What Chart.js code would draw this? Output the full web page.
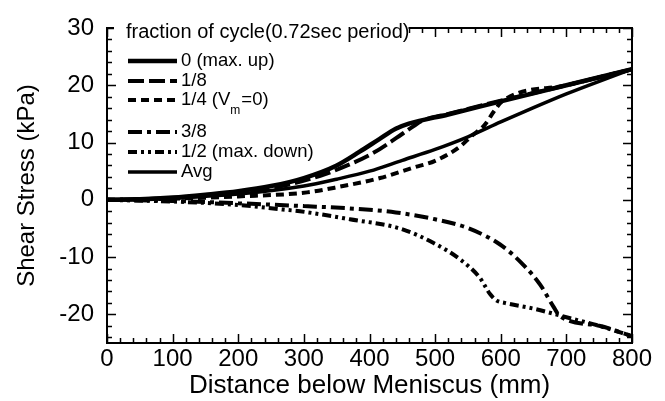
<!DOCTYPE html>
<html>
<head>
<meta charset="utf-8">
<script src="https://cdn.jsdelivr.net/npm/chart.js@4.4.1/dist/chart.umd.min.js"></script>
<style>
  html, body { margin: 0; padding: 0; background: #fff; }
  #wrap { width: 665px; height: 401px; }
</style>
</head>
<body>
<div id="wrap"><canvas id="stressChart" width="665" height="401"></canvas></div>
<script>
// Shear stress along the strand, one curve per fraction of the oscillation cycle
const seriesNames = ['0 (max. up)', '1/8', '1/4 (V_m=0)', '3/8', '1/2 (max. down)', 'Avg'];
const legendTitle = 'fraction of cycle(0.72sec period)';

const x0 = [0, 50, 100, 150, 200, 250, 300, 350, 385, 415, 440, 460, 520, 600, 700, 800];
const y0 = [0, 0.1, 0.4, 0.9, 1.5, 2.4, 3.8, 6.0, 8.4, 10.6, 12.4, 13.3, 14.9, 17.2, 20.0, 22.8];

const x18 = [0, 50, 100, 150, 200, 270, 325, 366, 406, 441, 465, 482, 520, 600, 700, 800];
const y18 = [0, 0.1, 0.3, 0.7, 1.2, 2.5, 4.2, 6.0, 8.2, 10.8, 12.7, 13.9, 15.0, 17.3, 20.0, 22.8];

const x14 = [0, 100, 200, 305, 355, 416, 466, 500, 538, 556, 575, 590, 603, 700, 800];
const y14 = [0, 0.2, 0.6, 1.3, 2.3, 3.8, 5.6, 6.8, 9.3, 11.2, 13.0, 15.5, 17.3, 20.0, 22.8];

const x38 = [0, 100, 200, 300, 370, 440, 500, 549, 599, 634, 660, 680, 690, 750, 800];
const y38 = [0, -0.2, -0.6, -1.1, -1.5, -2.2, -3.4, -4.9, -7.8, -11.3, -14.8, -18.6, -20.3, -22.0, -23.8];

const x12 = [0, 100, 200, 268, 294, 370, 446, 497, 538, 568, 584, 594, 606, 650, 700, 750, 800];
const y12 = [0, -0.3, -0.9, -1.7, -2.0, -3.4, -5.0, -7.5, -10.4, -13.6, -16.5, -17.6, -18.0, -19.0, -20.5, -22.0, -23.8];

const xAvg = [0, 100, 200, 300, 350, 400, 450, 500, 550, 600, 650, 700, 750, 800];
const yAvg = [0, 0.3, 1.0, 2.4, 3.6, 5.0, 6.9, 8.8, 11.0, 13.6, 16.1, 18.5, 20.7, 22.8];

const xTicks = [0, 100, 200, 300, 400, 500, 600, 700, 800];
const yTicks = [-20, -10, 0, 10, 20, 30];

const FONT = '"Liberation Sans", Arial, Helvetica, sans-serif';

function pts(xs, ys) {
    return xs.map((x, i) => ({ x: x, y: ys[i] }));
}

// inward tick marks and full frame, like the original plot
const framePlugin = {
    id: 'frame',
    beforeDatasetsDraw(chart) {
        const { ctx, chartArea: a, scales } = chart;
        ctx.save();
        ctx.strokeStyle = '#000';
        ctx.lineWidth = 1.5;
        ctx.beginPath();
        for (let v = 0; v <= 800; v += 20) {
            const px = Math.round(scales.x.getPixelForValue(v)) + 0.5;
            const len = v % 100 === 0 ? 9 : 5;
            ctx.moveTo(px, a.bottom); ctx.lineTo(px, a.bottom - len);
            ctx.moveTo(px, a.top); ctx.lineTo(px, a.top + len);
        }
        for (let v = -24; v <= 30; v += 2) {
            const py = Math.round(scales.y.getPixelForValue(v)) + 0.5;
            const len = v % 10 === 0 ? 9 : 5;
            ctx.moveTo(a.left, py); ctx.lineTo(a.left + len, py);
            ctx.moveTo(a.right, py); ctx.lineTo(a.right - len, py);
        }
        ctx.stroke();
        ctx.lineWidth = 2;
        ctx.strokeRect(a.left, a.top, a.right - a.left, a.bottom - a.top);
        ctx.restore();
    },
    afterDatasetsDraw(chart) {
        const { ctx, chartArea: a } = chart;
        ctx.save();
        // title sits on the top border
        ctx.font = '20px ' + FONT;
        const tw = ctx.measureText(legendTitle).width;
        ctx.fillStyle = '#fff';
        ctx.fillRect(a.left + 7, a.top - 12, tw + 11, 24);
        ctx.fillStyle = '#000';
        ctx.textBaseline = 'middle';
        ctx.fillText(legendTitle, a.left + 19, a.top + 4);

        const rows = [61, 81, 100, 132, 152, 172];
        chart.data.datasets.forEach((ds, i) => {
            const y = rows[i];
            ctx.strokeStyle = '#000';
            ctx.lineWidth = ds.borderWidth;
            ctx.setLineDash(ds.borderDash || []);
            ctx.beginPath();
            ctx.moveTo(128, y);
            ctx.lineTo(177, y);
            ctx.stroke();
            ctx.setLineDash([]);

            const name = ds.label;
            ctx.font = '18.5px ' + FONT;
            const k = name.indexOf('_');
            if (k < 0) {
                ctx.fillText(name, 181, y);
            } else {
                const pre = name.slice(0, k), sub = name.charAt(k + 1), post = name.slice(k + 2);
                ctx.fillText(pre, 181, y);
                let xp = 181 + ctx.measureText(pre).width;
                ctx.font = '12px ' + FONT;
                ctx.fillText(sub, xp, y + 11);
                xp += ctx.measureText(sub).width + 1;
                ctx.font = '18.5px ' + FONT;
                ctx.fillText(post, xp, y);
            }
        });
        ctx.restore();
    }
};

const styles = [
    { w: 4.5, dash: [] },
    { w: 4, dash: [16, 5] },
    { w: 4, dash: [8, 5] },
    { w: 4, dash: [14, 5, 4, 5] },
    { w: 4, dash: [9, 4, 3, 4, 3, 4] },
    { w: 3.5, dash: [] }
];
const seriesData = [pts(x0, y0), pts(x18, y18), pts(x14, y14), pts(x38, y38), pts(x12, y12), pts(xAvg, yAvg)];

const ctx = document.getElementById('stressChart');
new Chart(ctx, {
    type: 'line',
    data: {
        datasets: seriesData.map((d, i) => ({
            label: seriesNames[i],
            data: d,
            borderColor: '#000',
            borderWidth: styles[i].w,
            borderDash: styles[i].dash,
            pointRadius: 0,
            fill: false,
            cubicInterpolationMode: 'monotone'
        }))
    },
    options: {
        responsive: false,
        animation: false,
        devicePixelRatio: 1,
        layout: { padding: { top: 28, right: 33, left: 0, bottom: 0 } },
        plugins: { legend: { display: false }, tooltip: { enabled: false } },
        scales: {
            x: {
                type: 'linear',
                min: 0,
                max: 800,
                afterBuildTicks: s => { s.ticks = xTicks.map(v => ({ value: v })); },
                afterFit: s => { s.height = 58; },
                grid: { display: false, drawTicks: false },
                border: { display: false },
                ticks: { color: '#000', font: { family: FONT, size: 24 }, padding: 2, maxRotation: 0, autoSkip: false },
                title: {
                    display: true,
                    text: 'Distance below Meniscus (mm)',
                    color: '#000',
                    font: { family: FONT, size: 26 },
                    padding: { top: 0, bottom: 0 }
                }
            },
            y: {
                min: -25,
                max: 30,
                afterBuildTicks: s => { s.ticks = yTicks.map(v => ({ value: v })); },
                afterFit: s => { s.width = 107; },
                grid: { display: false, drawTicks: false },
                border: { display: false },
                ticks: { color: '#000', font: { family: FONT, size: 24 }, padding: 13 },
                title: {
                    display: true,
                    text: 'Shear Stress (kPa)',
                    color: '#000',
                    font: { family: FONT, size: 24 },
                    padding: { top: 13, bottom: 0 }
                }
            }
        }
    },
    plugins: [framePlugin]
});
</script>
</body>
</html>
